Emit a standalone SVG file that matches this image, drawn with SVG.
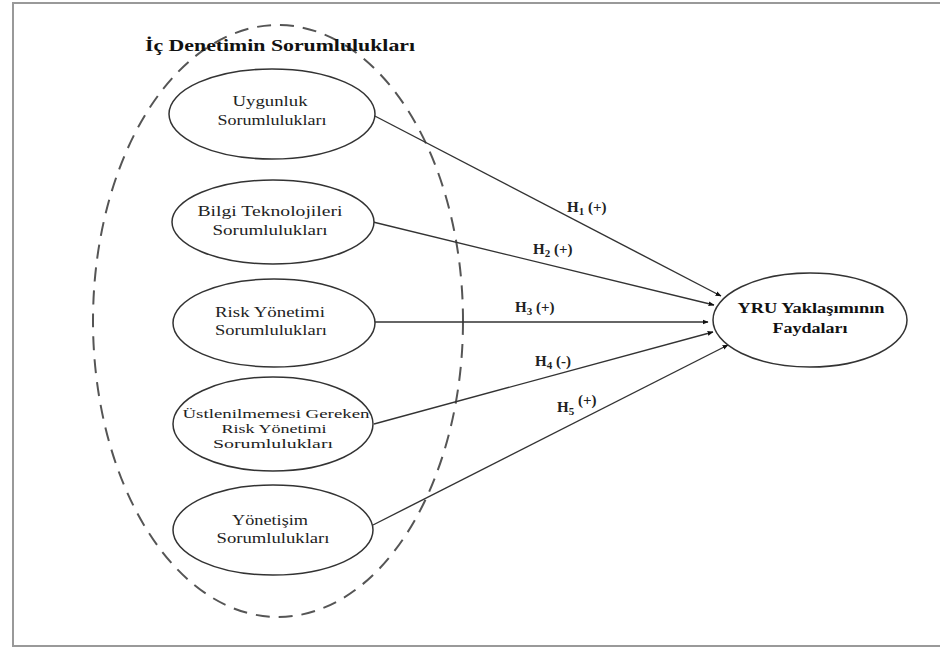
<svg xmlns="http://www.w3.org/2000/svg" width="940" height="649" viewBox="0 0 940 649">
<defs>
<marker id="ah" viewBox="0 0 10 10" refX="9" refY="5" markerWidth="6" markerHeight="6" orient="auto" markerUnits="userSpaceOnUse">
<path d="M0,1 L10,5 L0,9 z" fill="#111"/>
</marker>
<style>
.frame{fill:#fff;stroke:#999;stroke-width:2}
.group{fill:none;stroke:#555;stroke-width:2;stroke-dasharray:14 9}
.node{fill:#fff;stroke:#333;stroke-width:1.5}
.t{font-family:"Liberation Serif","DejaVu Serif",serif;font-size:15px;fill:#222;text-anchor:middle}
.t3{font-size:13.5px}
.b{font-family:"Liberation Serif","DejaVu Serif",serif;font-weight:bold;fill:#111;text-anchor:middle}
.h{font-family:"Liberation Serif","DejaVu Serif",serif;font-weight:bold;font-size:15px;fill:#222}
.sub{font-size:11px}
.edge{stroke:#333;stroke-width:1.4;fill:none;marker-end:url(#ah)}
</style>
</defs>
<rect class="frame" x="13" y="3" width="940" height="643"/>
<g id="group-ic-denetim">
<ellipse class="group" cx="278" cy="321" rx="185" ry="296"/>
<text class="b" x="280" y="51" font-size="17" textLength="270" lengthAdjust="spacingAndGlyphs">İç Denetimin Sorumlulukları</text>
</g>
<g id="connectors">
<line class="edge" x1="371" y1="114" x2="721" y2="296"/>
<line class="edge" x1="373" y1="222" x2="714" y2="305"/>
<line class="edge" x1="375" y1="322" x2="708" y2="322"/>
<line class="edge" x1="374" y1="424" x2="713" y2="332"/>
<line class="edge" x1="373" y1="525" x2="728" y2="345"/>
<text class="h" x="567" y="212">H<tspan class="sub" dy="3">1</tspan><tspan dy="-3"> (+)</tspan></text>
<text class="h" x="533" y="254">H<tspan class="sub" dy="3">2</tspan><tspan dy="-3"> (+)</tspan></text>
<text class="h" x="515" y="312">H<tspan class="sub" dy="3">3</tspan><tspan dy="-3"> (+)</tspan></text>
<text class="h" x="535" y="366">H<tspan class="sub" dy="3">4</tspan><tspan dy="-3"> (-)</tspan></text>
<text class="h" x="557" y="412">H<tspan class="sub" dy="3">5</tspan><tspan dy="-10"> (+)</tspan></text>
</g>
<g id="node-uygunluk">
<ellipse class="node" cx="272" cy="114" rx="103" ry="45"/>
<text class="t" x="270" y="106" textLength="75" lengthAdjust="spacingAndGlyphs">Uygunluk</text>
<text class="t" x="272" y="125" textLength="109" lengthAdjust="spacingAndGlyphs">Sorumlulukları</text>
</g>
<g id="node-bilgi">
<ellipse class="node" cx="273" cy="222" rx="101" ry="42"/>
<text class="t" x="270" y="216" textLength="145" lengthAdjust="spacingAndGlyphs">Bilgi Teknolojileri</text>
<text class="t" x="270" y="235" textLength="115" lengthAdjust="spacingAndGlyphs">Sorumlulukları</text>
</g>
<g id="node-risk">
<ellipse class="node" cx="274" cy="323" rx="101" ry="44"/>
<text class="t" x="270" y="317" textLength="110" lengthAdjust="spacingAndGlyphs">Risk Yönetimi</text>
<text class="t" x="271" y="335" textLength="112" lengthAdjust="spacingAndGlyphs">Sorumlulukları</text>
</g>
<g id="node-ustlenilmemesi">
<ellipse class="node" cx="273" cy="424" rx="100" ry="47"/>
<text class="t t3" x="276" y="418" textLength="187" lengthAdjust="spacingAndGlyphs">Üstlenilmemesi Gereken</text>
<text class="t t3" x="274" y="433" textLength="105" lengthAdjust="spacingAndGlyphs">Risk Yönetimi</text>
<text class="t t3" x="273" y="448" textLength="120" lengthAdjust="spacingAndGlyphs">Sorumlulukları</text>
</g>
<g id="node-yonetisim">
<ellipse class="node" cx="273" cy="530" rx="100" ry="45"/>
<text class="t" x="270" y="525" textLength="76" lengthAdjust="spacingAndGlyphs">Yönetişim</text>
<text class="t" x="273" y="543" textLength="113" lengthAdjust="spacingAndGlyphs">Sorumlulukları</text>
</g>
<g id="node-yru">
<ellipse class="node" cx="810" cy="320" rx="97" ry="47"/>
<text class="b" x="811" y="313" font-size="15" textLength="147" lengthAdjust="spacingAndGlyphs">YRU Yaklaşımının</text>
<text class="b" x="810" y="333" font-size="15" textLength="75" lengthAdjust="spacingAndGlyphs">Faydaları</text>
</g>
</svg>
